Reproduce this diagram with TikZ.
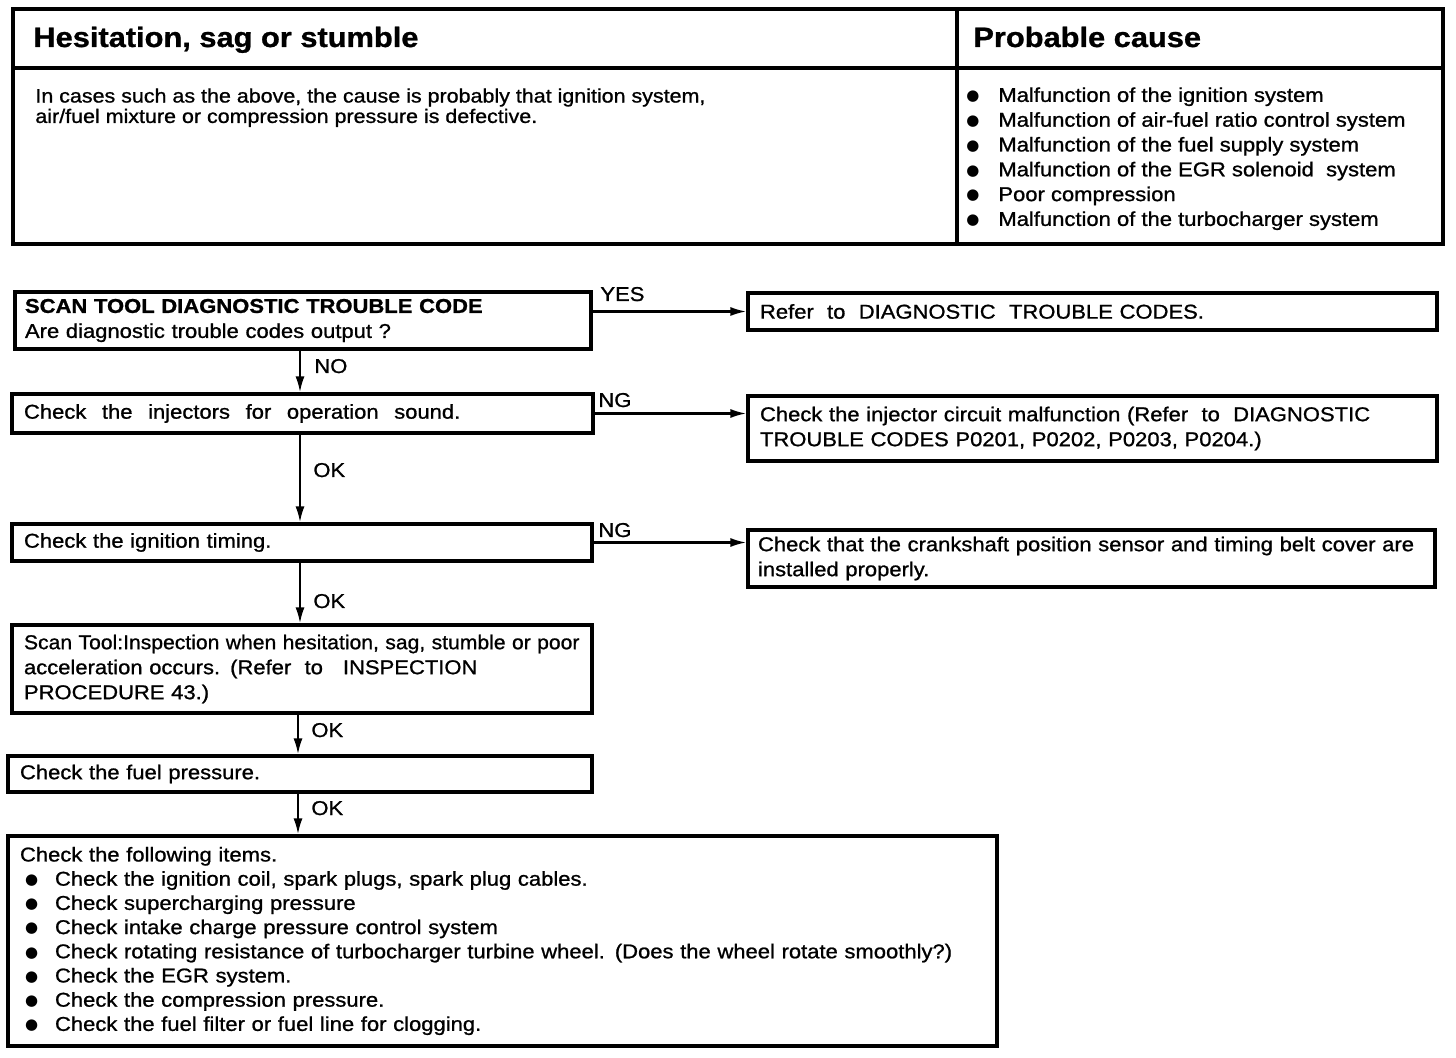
\documentclass[tikz,border=0pt]{standalone}
\usepackage{fontspec}
\setmainfont{Liberation Sans}[FakeStretch=1.1, FakeBold=1]
\newfontfamily\symf{DejaVu Sans}
\usetikzlibrary{arrows.meta}
\newcommand\dotb{{\symf\fontsize{7.5}{8}\selectfont\raisebox{0.6pt}{●}}}
\newcommand\blt{\makebox[17.5pt][l]{\hspace{2.5pt}\dotb}}
\newcommand\tblt{\makebox[16pt][l]{\dotb}}
\newcommand\wgap{\hspace{7.8pt}}
\begin{document}
\begin{tikzpicture}[x=0.5pt,y=-0.5pt,
  box/.style={draw, line width=1.6pt, inner xsep=5pt, inner ysep=1pt, align=left,
    font=\fontsize{10}{12.5}\selectfont},
  arr/.style={line width=1.1pt, -{Latex[length=8pt,width=4.5pt]}},
  lbl/.style={inner sep=0pt, anchor=base west, font=\fontsize{10}{12}\selectfont},
  frame/.style={line width=1.7pt},
]
\useasboundingbox (0,0) rectangle (1456,1058);
% ---------- top table ----------
\draw[frame] (13,9) rectangle (1443,244);
\draw[frame] (13,68) -- (1443,68);
\draw[frame] (957,9) -- (957,244);
\node[inner sep=0pt, anchor=base west, font=\bfseries\fontsize{14}{16}\selectfont] (h1) at (33,47) {Hesitation, sag or stumble};
\node[inner sep=0pt, anchor=base west, font=\bfseries\fontsize{14}{16}\selectfont] (h2) at (973,47) {Probable cause};
\node[inner sep=0pt, anchor=north west, align=left, font=\fontsize{9.75}{10.2}\selectfont] (body) at (35,88)
  {In cases such as the above, the cause is probably that ignition system,\\air/fuel mixture or compression pressure is defective.};
\node[inner sep=0pt, anchor=north west, align=left, font=\fontsize{10}{12.4}\selectfont] (causes) at (966,87)
  {\tblt Malfunction of the ignition system\\
   \tblt Malfunction of air-fuel ratio control system\\
   \tblt Malfunction of the fuel supply system\\
   \tblt Malfunction of the EGR solenoid\ \ system\\
   \tblt Poor compression\\
   \tblt Malfunction of the turbocharger system};
% ---------- flowchart ----------
\node[box, minimum width=288pt, minimum height=28.5pt, text width=278pt] (b1) at (303,320.5)
  {\textbf{SCAN TOOL DIAGNOSTIC TROUBLE CODE}\\Are diagnostic trouble codes output ?};
\node[box, inner xsep=6pt, minimum width=344.5pt, minimum height=18.5pt, text width=332.5pt] (r1) at (1092.5,311.5)
  {Refer\ \ to\ \ DIAGNOSTIC\ \ TROUBLE CODES.};
\node[box, inner xsep=6pt, minimum width=290.5pt, minimum height=19.5pt, text width=278.5pt] (b2) at (302.5,413.5)
  {Check\wgap the\wgap injectors\wgap for\wgap operation\wgap sound.};
\node[box, inner xsep=6pt, minimum width=344.5pt, minimum height=32.5pt, text width=332.5pt] (r2) at (1092.5,428.5)
  {Check the injector circuit malfunction (Refer\ \ to\ \ DIAGNOSTIC\\TROUBLE CODES P0201, P0202, P0203, P0204.)};
\node[box, inner xsep=6pt, minimum width=290pt, minimum height=18.5pt, text width=278pt] (b3) at (302,542.5)
  {Check the ignition timing.};
\node[box, inner xsep=5pt, minimum width=343.5pt, minimum height=28.5pt, text width=333.5pt] (r3) at (1091.5,558.5)
  {Check that the crankshaft position sensor and timing belt cover are\\installed properly.};
\node[box, inner xsep=6pt, minimum width=290pt, minimum height=44pt, text width=278pt] (b4) at (302,669)
  {\scalebox{0.96}[1]{Scan Tool:Inspection when hesitation, sag, stumble or poor}\\acceleration occurs. (Refer\ \ to\ \ \ INSPECTION\\PROCEDURE 43.)};
\node[box, inner xsep=6pt, minimum width=292pt, minimum height=18pt, text width=280pt] (b5) at (300,774)
  {Check the fuel pressure.};
\node[box, inner xsep=6pt, minimum width=494.5pt, minimum height=105pt, text width=482.5pt,
      font=\fontsize{10}{12.1}\selectfont] (b6) at (502.5,941)
  {Check the following items.\\
   \blt Check the ignition coil, spark plugs, spark plug cables.\\
   \blt Check supercharging pressure\\
   \blt Check intake charge pressure control system\\
   \blt Check rotating resistance of turbocharger turbine wheel. (Does the wheel rotate smoothly?)\\
   \blt Check the EGR system.\\
   \blt Check the compression pressure.\\
   \blt Check the fuel filter or fuel line for clogging.};
% ---------- connectors ----------
\coordinate (sxa) at (300,0);
\coordinate (sxb) at (298,0);
\draw[arr] (b1.south -| sxa) -- (b2.north -| sxa);
\draw[arr] (b2.south -| sxa) -- (b3.north -| sxa);
\draw[arr] (b3.south -| sxa) -- (b4.north -| sxa);
\draw[arr] (b4.south -| sxb) -- (b5.north -| sxb);
\draw[arr] (b5.south -| sxb) -- (b6.north -| sxb);
\draw[arr] (r1.west -| b1.east) -- (r1.west);
\draw[arr] (b2.east) -- (b2.east -| r2.west);
\draw[arr] (b3.east) -- (b3.east -| r3.west);
% ---------- labels ----------
\node[lbl] (lyes) at (600,301) {YES};
\node[lbl] (lno) at (314,373) {NO};
\node[lbl] (lng1) at (598,407) {NG};
\node[lbl] (lok1) at (313,477) {OK};
\node[lbl] (lng2) at (598,537) {NG};
\node[lbl] (lok2) at (313,608) {OK};
\node[lbl] (lok3) at (311,737) {OK};
\node[lbl] (lok4) at (311,815) {OK};
\end{tikzpicture}
\end{document}
